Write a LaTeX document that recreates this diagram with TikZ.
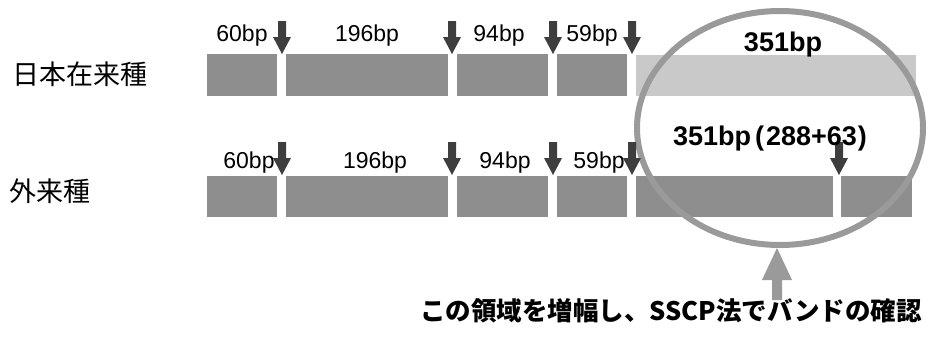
\documentclass[tikz,border=0pt]{standalone}
\usepackage{fontspec}
\setmainfont{Liberation Sans}
\newfontfamily\cjk{Noto Sans CJK JP}
\definecolor{barDark}{HTML}{8E8E8E}
\definecolor{barLight}{HTML}{C9C9C9}
\definecolor{ringGray}{HTML}{9A9A9A}
\definecolor{arrDark}{HTML}{3E3E3E}
\tikzset{
  bar/.style={fill=barDark, draw=none, inner sep=0pt, outer sep=0pt, anchor=north west},
  lbar/.style={bar, fill=barLight},
  bplabel/.style={anchor=base, inner sep=0pt, font=\fontsize{23}{26}\selectfont},
  boldlabel/.style={anchor=base, inner sep=0pt, font=\fontsize{27}{30}\selectfont\bfseries},
  jplabel/.style={inner sep=0pt, font=\cjk\fontsize{27}{30}\selectfont},
  darr/.style={fill=arrDark, draw=none},
  uarr/.style={fill=ringGray, draw=none},
  ring/.style={draw=ringGray, line width=6pt}
}
\newcommand\dnarrow[2]{%
  \path[darr] ({#1-4},{#2-33}) -- ({#1+4},{#2-33}) -- ({#1+4},{#2-17}) -- ({#1+9},{#2-17})
    -- (#1,#2) -- ({#1-9},{#2-17}) -- ({#1-4},{#2-17}) -- cycle;}
\begin{document}
\begin{tikzpicture}[x=1pt,y=-1pt]
\useasboundingbox (0,0) rectangle (928,340);
% row 1 bars
\node[bar, minimum width=70pt, minimum height=42pt] (a1) at (207,54) {};
\node[bar, minimum width=162pt, minimum height=42pt] (a2) at (286,54) {};
\node[bar, minimum width=91pt, minimum height=42pt] (a3) at (457,54) {};
\node[bar, minimum width=70pt, minimum height=42pt] (a4) at (557,54) {};
\node[lbar, minimum width=280pt, minimum height=41pt] (a5) at (636,55) {};
% row 2 bars
\node[bar, minimum width=70pt, minimum height=41pt] (b1) at (207,176) {};
\node[bar, minimum width=162pt, minimum height=41pt] (b2) at (286,176) {};
\node[bar, minimum width=91pt, minimum height=41pt] (b3) at (457,176) {};
\node[bar, minimum width=70pt, minimum height=41pt] (b4) at (557,176) {};
\node[bar, minimum width=197pt, minimum height=41pt] (b5) at (636,176) {};
\node[bar, minimum width=71pt, minimum height=41pt] (b6) at (841,176) {};
% ring
\draw[ring] (780,128) ellipse [x radius=143, y radius=117];
% down arrows row 1
\dnarrow{282}{54}
\dnarrow{452}{54}
\dnarrow{553}{54}
\dnarrow{632}{54}
% down arrows row 2
\dnarrow{282}{175}
\dnarrow{452}{175}
\dnarrow{553}{175}
\dnarrow{632}{175}
\dnarrow{839}{175}
% up arrow
\path[uarr] (772,300) -- (782,300) -- (782,280) -- (792,280) -- (777,248) -- (762,280) -- (772,280) -- cycle;
% row labels
\node[jplabel] (r1) at (80,74) {日本在来種};
\node[jplabel] (r2) at (50,191) {外来種};
% bp labels row 1
\node[bplabel] (l11) at (242,41) {60bp};
\node[bplabel] (l12) at (367,41) {196bp};
\node[bplabel] (l13) at (499,41) {94bp};
\node[bplabel] (l14) at (592,41) {59bp};
\node[boldlabel] (l15) at (783,51) {351bp};
% bp labels row 2
\node[bplabel] (l21) at (249,168) {60bp};
\node[bplabel] (l22) at (375,168) {196bp};
\node[bplabel] (l23) at (505,168) {94bp};
\node[bplabel] (l24) at (599,168) {59bp};
\node[boldlabel] (l25) at (770,145) {351bp\hspace{4pt}(\hspace{2pt}288+63\hspace{1pt})};
% bottom text
\node[inner sep=0pt, font=\cjk\fontsize{25.5}{28}\selectfont\bfseries] (note) at (671,311) {この領域を増幅し、SSCP法でバンドの確認};
\end{tikzpicture}
\end{document}
